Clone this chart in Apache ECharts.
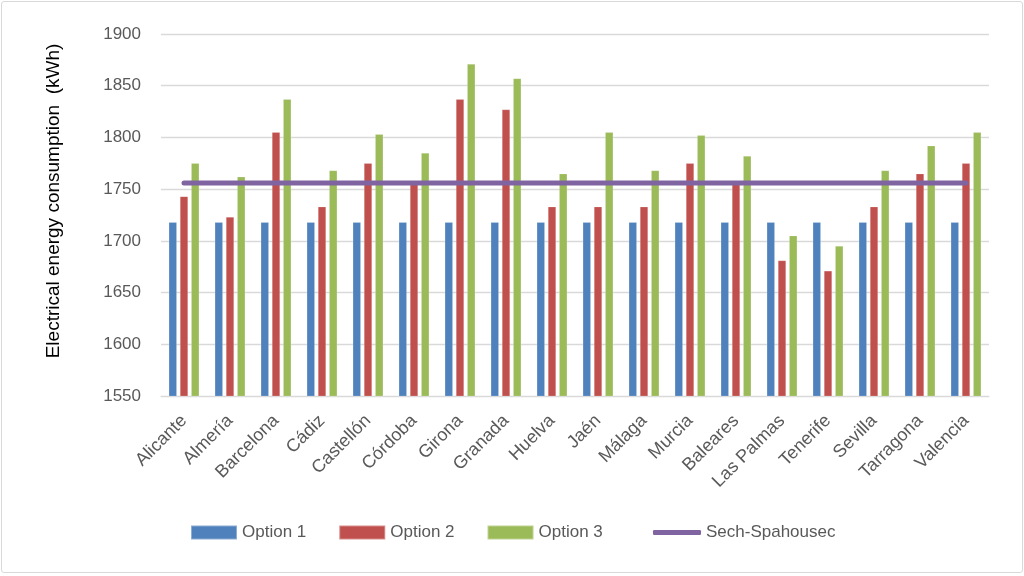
<!DOCTYPE html>
<html>
<head>
    <meta charset="utf-8">
    <title>ECharts</title>
    <script src="https://cdn.jsdelivr.net/npm/echarts@6/dist/echarts.min.js"></script>
    <style>
        html, body { margin: 0; padding: 0; background: #fff; }
        #main { position: absolute; left: 1px; top: 1px; width: 1020px; height: 570px;
                border: 1px solid #d9d9d9; border-radius: 3px; }
    </style>
</head>
<body>
<div id="main"></div>
<script type="text/javascript">
    // provinces
    var categories = ['Alicante', 'Almería', 'Barcelona', 'Cádiz', 'Castellón', 'Córdoba',
        'Girona', 'Granada', 'Huelva', 'Jaén', 'Málaga', 'Murcia', 'Baleares',
        'Las Palmas', 'Tenerife', 'Sevilla', 'Tarragona', 'Valencia'];

    var option1 = [1718, 1718, 1718, 1718, 1718, 1718, 1718, 1718, 1718,
        1718, 1718, 1718, 1718, 1718, 1718, 1718, 1718, 1718];
    var option2 = [1743, 1723, 1805, 1733, 1775, 1755, 1837, 1827, 1733,
        1733, 1733, 1775, 1755, 1681, 1671, 1733, 1765, 1775];
    var option3 = [1775, 1762, 1837, 1768, 1803, 1785, 1871, 1857, 1765,
        1805, 1768, 1802, 1782, 1705, 1695, 1768, 1792, 1805];
    var sechSpahousec = [1756, 1756, 1756, 1756, 1756, 1756, 1756, 1756, 1756,
        1756, 1756, 1756, 1756, 1756, 1756, 1756, 1756, 1756];

    var yMin = 1550, yMax = 1900, yStep = 50;

    var myChart = echarts.init(document.getElementById('main'));
    var font = '"Liberation Sans", sans-serif';

    function bar(name, data, color) {
        return {
            name: name,
            type: 'bar',
            data: data,
            barWidth: 8,
            barGap: '40%',
            itemStyle: { color: color, borderColor: 'rgba(255,255,255,0.35)', borderWidth: 0.5 }
        };
    }

    var legendText = { fontSize: 17, color: '#595959', fontFamily: font };

    var option = {
        textStyle: { fontFamily: font },
        animation: false,
        grid: { left: 159, right: 33, top: 32, bottom: 176 },
        legend: [{
            // bars
            top: 517,
            left: 183,
            icon: 'rect',
            itemWidth: 46,
            itemHeight: 14,
            itemGap: 32,
            textStyle: Object.assign({ width: 70 }, legendText),
            data: ['Option 1', 'Option 2', 'Option 3']
        }, {
            // average line
            top: 517,
            left: 646,
            itemWidth: 48,
            itemHeight: 5,
            icon: 'roundRect',
            textStyle: legendText,
            data: ['Sech-Spahousec']
        }],
        xAxis: {
            type: 'category',
            data: categories,
            axisTick: { show: false },
            axisLine: { lineStyle: { color: '#d9d9d9' } },
            axisLabel: { rotate: 45, fontSize: 18, color: '#595959', margin: 22, interval: 0 }
        },
        yAxis: {
            type: 'value',
            min: yMin,
            max: yMax,
            interval: yStep,
            name: 'Electrical energy consumption  (kWh)',
            nameLocation: 'middle',
            nameGap: 98,
            nameTextStyle: { fontSize: 19, color: '#000', padding: [0, 0, 0, 28] },
            axisLine: { show: false },
            axisTick: { show: false },
            axisLabel: {
                fontSize: 17, color: '#595959', margin: 20,
                formatter: function (v) { return String(v); }
            },
            splitLine: { lineStyle: { color: '#d9d9d9', width: 1.3 } }
        },
        series: [
            bar('Option 1', option1, '#4F81BD'),
            bar('Option 2', option2, '#C0504D'),
            bar('Option 3', option3, '#9BBB59'),
            {
                name: 'Sech-Spahousec',
                type: 'line',
                data: sechSpahousec,
                symbol: 'none',
                lineStyle: { color: '#8064A2', width: 5, cap: 'round' },
                itemStyle: { color: '#8064A2' },
                z: 5
            }
        ]
    };
    myChart.setOption(option);
</script>
</body>
</html>
